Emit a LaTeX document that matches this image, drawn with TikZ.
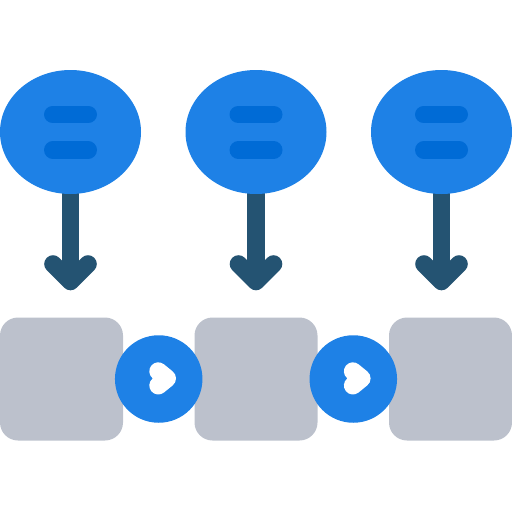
\documentclass[tikz,border=0pt]{standalone}
\usetikzlibrary{shapes.geometric}
\definecolor{bubble}{HTML}{1E81E6}
\definecolor{bar}{HTML}{006BD6}
\definecolor{arrowc}{HTML}{245372}
\definecolor{boxc}{HTML}{BCC1CC}
\tikzset{
  bubblenode/.style={ellipse, fill=bubble, minimum width=141pt, minimum height=124pt, inner sep=0pt},
  stagebox/.style={rectangle, rounded corners=18pt, fill=boxc, minimum width=123pt, minimum height=123pt, inner sep=0pt},
  linkcircle/.style={circle, fill=bubble, minimum size=87.5pt, inner sep=0pt},
  barline/.style={draw=bar, line width=17.6pt, line cap=round},
  arrowline/.style={draw=arrowc, line width=17.6pt, line cap=round, line join=round},
  heartline/.style={draw=white, fill=white, line width=18pt, line cap=round, line join=round}
}
\begin{document}
\begin{tikzpicture}[x=1pt,y=-1pt]
\useasboundingbox (0,0) rectangle (512,512);
% arrows (drawn first, under bubbles)
\foreach \i/\cx in {1/70.5,2/256,3/441.5}{
  \coordinate (shaft\i) at (\cx,280);
  \draw[draw=arrowc, line width=17.6pt] (\cx,180) -- (shaft\i);
  \draw[arrowline] (\cx-17.5,264) -- (\cx,281.5) -- (\cx+17.5,264);
}
% bubbles
\foreach \i/\cx in {1/70.5,2/256,3/441.5}{
  \node[bubblenode] (b\i) at (\cx,132) {};
  \draw[barline] (\cx-17.7,114.5) -- (\cx+17.7,114.5);
  \draw[barline] (\cx-17.7,150) -- (\cx+17.7,150);
}
% boxes
\node[stagebox] (s1) at (61.5,379) {};
\node[stagebox] (s2) at (256,379) {};
\node[stagebox] (s3) at (450.5,379) {};
% link circles with heart
\foreach \i/\cx in {1/158.7,2/353.3}{
  \node[linkcircle] (c\i) at (\cx,379) {};
  \filldraw[heartline] (\cx-0.4,371.3) -- (\cx+8.3,378.4) -- (\cx-0.4,385.5);
}
\end{tikzpicture}
\end{document}
